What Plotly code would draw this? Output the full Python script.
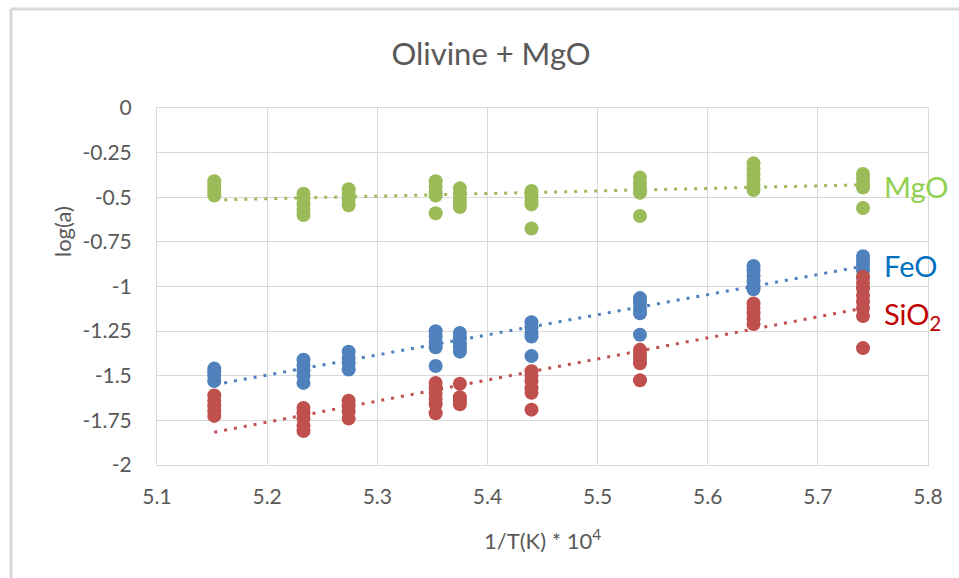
import numpy as np
import plotly.graph_objects as go

# Inverse temperature (1/T(K) * 10^4) of each run group
inv_t = [5.152, 5.233, 5.274, 5.353, 5.375, 5.440, 5.5385, 5.6416, 5.741]

# log activity values measured at each inverse temperature
mgo = [
    [-0.41, -0.43, -0.45, -0.47, -0.49],
    [-0.48, -0.51, -0.54, -0.57, -0.60],
    [-0.455, -0.48, -0.51, -0.545],
    [-0.41, -0.44, -0.47, -0.49, -0.59],
    [-0.45, -0.48, -0.51, -0.53, -0.555],
    [-0.465, -0.49, -0.52, -0.54, -0.675],
    [-0.39, -0.42, -0.45, -0.475, -0.605],
    [-0.31, -0.34, -0.37, -0.40, -0.43, -0.46],
    [-0.37, -0.40, -0.43, -0.445, -0.56],
]
feo = [
    [-1.46, -1.48, -1.50, -1.53],
    [-1.41, -1.44, -1.47, -1.50, -1.54],
    [-1.365, -1.40, -1.43, -1.465],
    [-1.25, -1.28, -1.31, -1.34, -1.445],
    [-1.26, -1.29, -1.32, -1.34, -1.365],
    [-1.20, -1.23, -1.26, -1.28, -1.39],
    [-1.065, -1.09, -1.12, -1.15, -1.27],
    [-0.885, -0.91, -0.94, -0.97, -1.00, -1.015],
    [-0.83, -0.855, -0.88, -0.91, -0.95],
]
sio2 = [
    [-1.61, -1.64, -1.67, -1.70, -1.725],
    [-1.68, -1.71, -1.74, -1.78, -1.81],
    [-1.64, -1.67, -1.70, -1.74],
    [-1.54, -1.57, -1.60, -1.63, -1.66, -1.71],
    [-1.545, -1.62, -1.64, -1.66],
    [-1.475, -1.50, -1.53, -1.57, -1.595, -1.69],
    [-1.355, -1.38, -1.40, -1.43, -1.525],
    [-1.095, -1.12, -1.15, -1.18, -1.21],
    [-0.945, -0.98, -1.01, -1.05, -1.085, -1.12, -1.165, -1.345],
]

x_ticks = [5.1, 5.2, 5.3, 5.4, 5.5, 5.6, 5.7, 5.8]
y_ticks = [0, -0.25, -0.5, -0.75, -1, -1.25, -1.5, -1.75, -2]
y_tick_text = ["0", "-0.25", "-0.5", "-0.75", "-1", "-1.25", "-1.5", "-1.75", "-2"]

series = [
    ("MgO", mgo, "#9BBB59", "#92D050"),
    ("FeO", feo, "#4F81BD", "#0070C0"),
    ("SiO<sub>2</sub>", sio2, "#C0504D", "#C00000"),
]

FONT = "Lato, 'Open Sans', sans-serif"
GREY = "#595959"
GRID = "#D9D9D9"

fig = go.Figure()

# Linear trend lines (dotted), one per oxide
for name, cols, mcolor, _ in series:
    xs = np.concatenate([[t] * len(c) for t, c in zip(inv_t, cols)])
    ys = np.concatenate(cols)
    slope, icpt = np.polyfit(xs, ys, 1)
    xl = np.array([xs.min(), xs.max()])
    fig.add_trace(go.Scatter(
        x=xl, y=slope * xl + icpt, mode="lines",
        line=dict(color=mcolor, width=3, dash="3px,7px"),
        hoverinfo="skip", showlegend=False,
    ))

# Measured points
for name, cols, mcolor, _ in series:
    xs = np.concatenate([[t] * len(c) for t, c in zip(inv_t, cols)])
    ys = np.concatenate(cols)
    fig.add_trace(go.Scatter(
        x=xs, y=ys, mode="markers", name=name,
        marker=dict(color=mcolor, size=14, line=dict(width=0)),
        showlegend=False,
    ))

# Pixel layout of the plot area
L, R, T, B = 157, 928, 108, 465
W, H = 959, 578
pw, ph = R - L, B - T


def px(xp):
    return (xp - L) / pw


def py(yp):
    return (B - yp) / ph


annotations = [
    dict(text="log(a)", x=px(62), y=py(232), textangle=-90,
         font=dict(size=22, color=GREY, family=FONT)),
    dict(text="1/T(K) * 10<sup>4</sup>", x=px(542), y=py(539),
         font=dict(size=22, color=GREY, family=FONT)),
]
label_y = {"MgO": 186, "FeO": 265, "SiO<sub>2</sub>": 315}
for name, _, _, lcolor in series:
    annotations.append(dict(
        text=name, x=px(882), y=py(label_y[name]), xanchor="left",
        font=dict(size=29, color=lcolor, family=FONT)))
for a in annotations:
    a.update(xref="paper", yref="paper", showarrow=False)
    a.setdefault("xanchor", "center")
    a.setdefault("yanchor", "middle")

# Chart frame (left and top edges)
shapes = [
    dict(type="line", xref="paper", yref="paper",
         x0=px(11), x1=px(11), y0=py(9), y1=py(W),
         line=dict(color=GRID, width=3)),
    dict(type="line", xref="paper", yref="paper",
         x0=px(11), x1=px(W + 5), y0=py(9), y1=py(9),
         line=dict(color=GRID, width=3)),
]

fig.update_layout(
    width=W, height=H,
    margin=dict(l=L, r=W - R, t=T, b=H - B, pad=0),
    paper_bgcolor="white", plot_bgcolor="white",
    title=dict(text="Olivine + MgO", x=491 / W, xanchor="center",
               xref="container", yref="container",
               y=1 - 54 / H, yanchor="middle",
               font=dict(size=31, color=GREY, family=FONT)),
    annotations=annotations, shapes=shapes,
    showlegend=False,
)
fig.update_xaxes(
    range=[5.1, 5.8], tickvals=x_ticks, ticktext=[f"{v:.1f}" for v in x_ticks],
    showgrid=True, gridcolor=GRID, gridwidth=1, zeroline=False,
    showline=True, linecolor=GRID, linewidth=1, mirror=True,
    ticks="", ticklabelstandoff=13,
    tickfont=dict(size=21, color=GREY, family=FONT),
)
fig.update_yaxes(
    range=[-2, 0], tickvals=y_ticks, ticktext=y_tick_text,
    showgrid=True, gridcolor=GRID, gridwidth=1, zeroline=False,
    showline=True, linecolor=GRID, linewidth=1, mirror=True,
    ticks="", ticklabelstandoff=20,
    tickfont=dict(size=21, color=GREY, family=FONT),
)

fig.write_html("out.html")
